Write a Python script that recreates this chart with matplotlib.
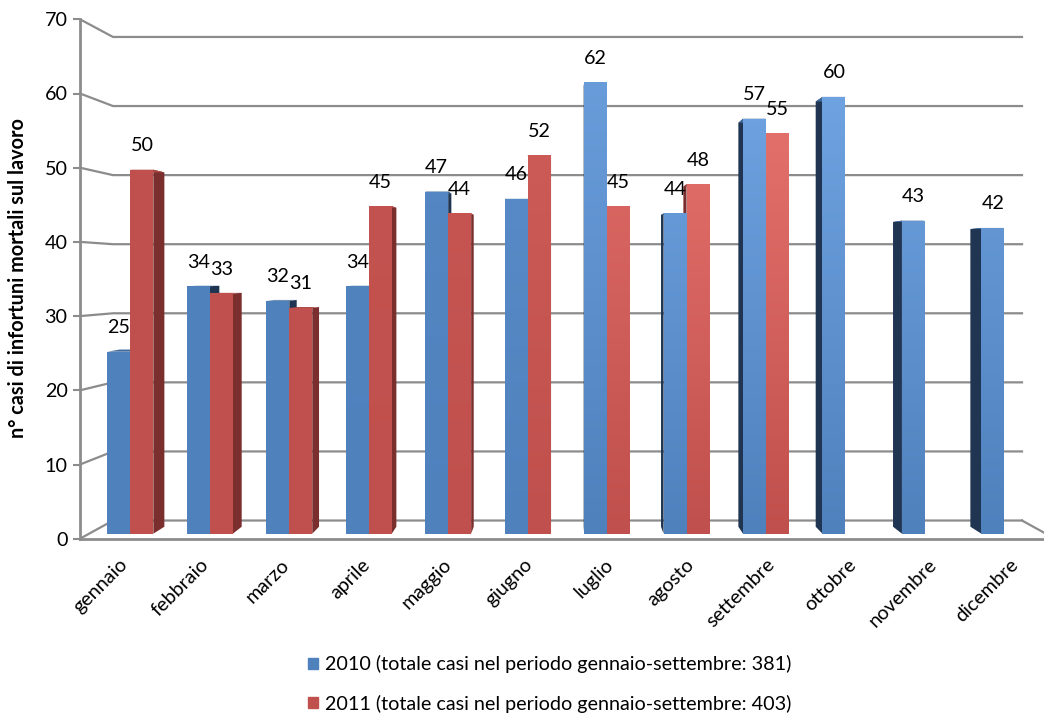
import matplotlib
matplotlib.use('Agg')
import matplotlib.pyplot as plt
import numpy as np
from matplotlib.colors import LinearSegmentedColormap, to_rgb
from matplotlib.patches import Patch, Polygon
from matplotlib.transforms import ScaledTranslation

plt.rcParams['font.family'] = ['Lato', 'DejaVu Sans']

# --- data ---
MONTHS = ['gennaio', 'febbraio', 'marzo', 'aprile', 'maggio', 'giugno',
          'luglio', 'agosto', 'settembre', 'ottobre', 'novembre', 'dicembre']
CASES_2010 = [25, 34, 32, 34, 47, 46, 62, 44, 57, 60, 43, 42]
CASES_2011 = [50, 33, 31, 45, 44, 52, 45, 48, 55, None, None, None]
LABEL_2010 = '2010 (totale casi nel periodo gennaio-settembre: 381)'
LABEL_2011 = '2011 (totale casi nel periodo gennaio-settembre: 403)'
# how much the picture's glare lightens the bars of each month
GLARE = [0, 0, 0, 0.1, 0.2, 0.35, 0.8, 1, 1, 1, 1, 0.9]

# --- layout, in pixels of the 1044x713 picture ---
W, H = 1044, 713
FRAME_LEFT, FRAME_TOP, FRAME_BOTTOM = 80, 19.3, 538.7
BAR_ZERO, BAR_PX_PER_CASE = 533.7, 7.28
FIRST_GROUP, GROUP_STEP = 130.4, 79.45
BAR_WIDTH = 0.289
WALL_DX, WALL_RIGHT = 33, 1022
WALL_OFFSET, WALL_SCALE = 2.45, 0.931
# the month labels follow the front edge of the floor, wider than the bars
LABEL_STEP = 1.019
# perspective of the bar sides
DEPTH = 0.0266
VANISH_X, VANISH_V = 5.495, 36.1

FONT = 14.2
GREY = '#8c8c8c'
BLUE, BLUE_LIGHT, BLUE_SIDE = '#4f81bd', '#6fa3e1', '#1f3552'
RED, RED_LIGHT, RED_SIDE = '#c0504d', '#e8736e', '#7a2e2d'

fig = plt.figure(figsize=(W / 100, H / 100), dpi=100)

# front axis and back wall
frame = fig.add_axes([FRAME_LEFT / W, 1 - FRAME_BOTTOM / H,
                      (W - FRAME_LEFT) / W, (FRAME_BOTTOM - FRAME_TOP) / H])
frame.set_xlim(FRAME_LEFT, W)
frame.set_ylim(0, 70)
frame.set_xticks([])
frame.set_yticks(range(0, 71, 10))
frame.tick_params(axis='y', length=5, width=1.5, color=GREY, labelsize=FONT, pad=4)
for name in ['top', 'right']:
    frame.spines[name].set_visible(False)
for name in ['left', 'bottom']:
    frame.spines[name].set_color(GREY)
    frame.spines[name].set_linewidth(2)
frame.set_ylabel('n° casi di infortuni mortali sul lavoro', fontsize=14.3, fontweight='bold')
frame.yaxis.set_label_coords(-0.054, 0.502)

for v in range(0, 71, 10):
    back = WALL_OFFSET + WALL_SCALE * v
    frame.plot([FRAME_LEFT, FRAME_LEFT + WALL_DX, WALL_RIGHT], [v, back, back],
               color=GREY, lw=1.6, solid_joinstyle='miter')
floor = WALL_OFFSET
frame.plot([WALL_RIGHT, WALL_RIGHT + WALL_DX], [floor, 0], color=GREY, lw=1.6)

# bars
ax = fig.add_axes([0, 1 - BAR_ZERO / H, 1, (BAR_ZERO - FRAME_TOP) / H])
ax.patch.set_alpha(0)
ax.set_xlim(-FIRST_GROUP / GROUP_STEP, (W - FIRST_GROUP) / GROUP_STEP)
ax.set_ylim(0, (BAR_ZERO - FRAME_TOP) / BAR_PX_PER_CASE)
ax.set_yticks([])
ax.set_xticks([i * LABEL_STEP for i in range(len(MONTHS))])
ax.set_xticklabels(MONTHS, rotation=45, ha='right', rotation_mode='anchor', fontsize=FONT)
ax.tick_params(axis='x', length=0, pad=16)
# the month labels sit a little left of the group centres
shift = ScaledTranslation(-8.5 / 72, 0, fig.dpi_scale_trans)
for tick_label in ax.get_xticklabels():
    tick_label.set_transform(tick_label.get_transform() + shift)
for spine in ax.spines.values():
    spine.set_visible(False)
limits = ax.get_xlim(), ax.get_ylim()


def to_back(x, v):
    return x + DEPTH * (VANISH_X - x), v + DEPTH * (VANISH_V - v)


def blend(c1, c2, t):
    return tuple(a + (b - a) * t for a, b in zip(to_rgb(c1), to_rgb(c2)))


def draw_series(values, left, base, light, side):
    for i, v in enumerate(values):
        if v is None:
            continue
        x0, x1 = i + left, i + left + BAR_WIDTH
        edge = x1 if (x0 + x1) / 2 < VANISH_X else x0
        bx, bv = to_back(edge, v)
        bx0, b0 = to_back(edge, 0)
        ax.add_patch(Polygon([(edge, 0), (edge, v), (bx, bv), (bx0, b0)],
                             facecolor=side, edgecolor='none', zorder=2))
        # top face, only seen on the bars below eye level
        tx0, tv = to_back(x0, v)
        tx1, _ = to_back(x1, v)
        ax.add_patch(Polygon([(x0, v), (x1, v), (tx1, tv), (tx0, tv)],
                             facecolor=blend(base, side, 0.3), edgecolor='none', zorder=2))
        # front face with its vertical gradient
        bar = ax.bar(x0, v, BAR_WIDTH, align='edge', color=base, zorder=3)[0]
        top = blend(base, light, GLARE[i] * v / 62)
        cmap = LinearSegmentedColormap.from_list('front', [base, top])
        img = ax.imshow(np.linspace(0, 1, 64).reshape(-1, 1), cmap=cmap, origin='lower',
                        extent=(x0, x1, 0, v), aspect='auto', zorder=3.5)
        img.set_clip_path(bar)
        ax.annotate(str(v), xy=((x0 + x1) / 2, v), xytext=(0, 17.3), textcoords='offset points',
                    ha='center', va='center', fontsize=FONT, zorder=5)


draw_series(CASES_2010, -BAR_WIDTH, BLUE, BLUE_LIGHT, BLUE_SIDE)
draw_series(CASES_2011, 0, RED, RED_LIGHT, RED_SIDE)
ax.set_xlim(limits[0])
ax.set_ylim(limits[1])

handles = [Patch(color=BLUE, label=LABEL_2010), Patch(color=RED, label=LABEL_2011)]
fig.legend(handles=handles, loc='center', bbox_to_anchor=(549.5 / W, 1 - 684 / H), frameon=False,
           fontsize=FONT, labelspacing=1.07, handlelength=0.5, handleheight=0.5, handletextpad=0.35)

fig.savefig('out.png', dpi=100)
